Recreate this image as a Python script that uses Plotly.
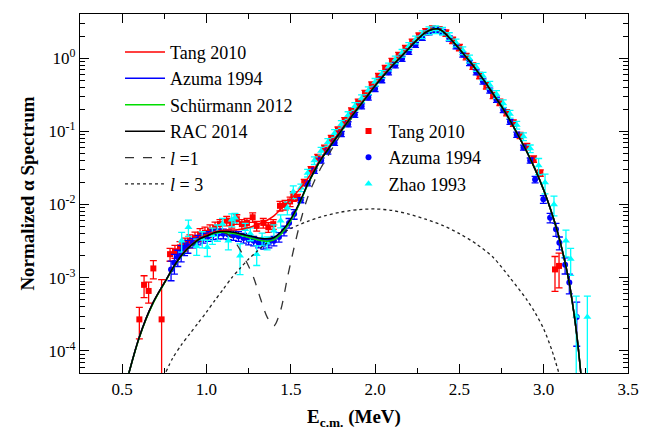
import plotly.graph_objects as go

# ---------------- data ----------------
fit_e = [0.54, 0.57, 0.60, 0.64, 0.68, 0.72, 0.76, 0.80, 0.84, 0.88, 0.92, 0.96, 1.00, 1.04, 1.08,
         1.12, 1.16, 1.20, 1.24, 1.28, 1.32, 1.36, 1.40, 1.44, 1.48, 1.52, 1.56, 1.60, 1.64, 1.68,
         1.72, 1.76, 1.80, 1.85, 1.90, 1.95, 2.00, 2.05, 2.10, 2.15, 2.20, 2.25, 2.30, 2.34, 2.37,
         2.40, 2.44, 2.48, 2.52, 2.56, 2.60, 2.65, 2.70, 2.75, 2.80, 2.85, 2.90, 2.95, 3.00, 3.04,
         3.08, 3.12, 3.15, 3.18, 3.20, 3.22]

rac_v = [5.0e-5, 8.9e-5, 1.5e-4, 2.7e-4, 4.4e-4, 6.5e-4, 9.3e-4, 1.35e-3, 1.86e-3, 2.4e-3, 2.9e-3, 3.4e-3, 3.7e-3, 4.07e-3, 4.27e-3,
         4.27e-3, 4.17e-3, 3.98e-3, 3.8e-3, 3.63e-3, 3.47e-3, 3.4e-3, 3.55e-3, 4.17e-3, 5.4e-3, 7.6e-3, 0.0117, 0.019, 0.0288, 0.0417,
         0.056, 0.076, 0.102, 0.148, 0.209, 0.295, 0.417, 0.575, 0.776, 1.02, 1.35, 1.78, 2.24, 2.48, 2.51,
         2.34, 1.90, 1.51, 1.17, 0.91, 0.69, 0.48, 0.324, 0.219, 0.141, 0.087, 0.0525, 0.030, 0.0158, 8.7e-3,
         4.4e-3, 1.9e-3, 8.9e-4, 3.2e-4, 1.4e-4, 5.0e-5]

tang_fit_v = [5.0e-5, 8.9e-5, 1.5e-4, 2.7e-4, 4.4e-4, 6.5e-4, 9.3e-4, 1.35e-3, 1.86e-3, 2.45e-3, 2.95e-3, 3.5e-3, 3.85e-3, 4.2e-3, 4.4e-3,
              4.5e-3, 4.5e-3, 4.55e-3, 4.8e-3, 5.1e-3, 5.5e-3, 6.1e-3, 7.0e-3, 8.6e-3, 0.0105, 0.0133, 0.017, 0.0225, 0.031, 0.043,
              0.059, 0.080, 0.107, 0.155, 0.218, 0.305, 0.43, 0.59, 0.79, 1.04, 1.37, 1.80, 2.26, 2.49, 2.51,
              2.34, 1.90, 1.51, 1.17, 0.91, 0.69, 0.48, 0.324, 0.219, 0.141, 0.087, 0.0525, 0.030, 0.0158, 8.7e-3,
              4.4e-3, 1.9e-3, 8.9e-4, 3.2e-4, 1.4e-4, 5.0e-5]

azuma_fit_v = [5.0e-5, 8.9e-5, 1.5e-4, 2.7e-4, 4.4e-4, 6.5e-4, 9.3e-4, 1.35e-3, 1.86e-3, 2.4e-3, 2.9e-3, 3.4e-3, 3.7e-3, 4.05e-3, 4.22e-3,
               4.2e-3, 4.1e-3, 3.9e-3, 3.7e-3, 3.52e-3, 3.35e-3, 3.28e-3, 3.42e-3, 4.02e-3, 5.25e-3, 7.45e-3, 0.0115, 0.0188, 0.0286, 0.0415,
               0.056, 0.076, 0.102, 0.148, 0.209, 0.295, 0.417, 0.575, 0.776, 1.02, 1.35, 1.78, 2.24, 2.48, 2.51,
               2.34, 1.90, 1.51, 1.17, 0.91, 0.69, 0.48, 0.324, 0.219, 0.141, 0.087, 0.0525, 0.030, 0.0158, 8.7e-3,
               4.4e-3, 1.9e-3, 8.9e-4, 3.2e-4, 1.4e-4, 5.0e-5]

schur_fit_v = [5.0e-5, 8.8e-5, 1.48e-4, 2.65e-4, 4.3e-4, 6.4e-4, 9.2e-4, 1.33e-3, 1.84e-3, 2.38e-3, 2.88e-3, 3.38e-3, 3.68e-3, 4.02e-3, 4.18e-3,
               4.15e-3, 4.02e-3, 3.82e-3, 3.6e-3, 3.4e-3, 3.22e-3, 3.15e-3, 3.3e-3, 3.9e-3, 5.1e-3, 7.3e-3, 0.0113, 0.0185, 0.0283, 0.0412,
               0.0555, 0.0755, 0.101, 0.147, 0.208, 0.294, 0.416, 0.574, 0.775, 1.02, 1.35, 1.78, 2.24, 2.48, 2.51,
               2.34, 1.90, 1.51, 1.17, 0.91, 0.69, 0.48, 0.324, 0.219, 0.141, 0.087, 0.0525, 0.030, 0.0158, 8.7e-3,
               4.4e-3, 1.9e-3, 8.9e-4, 3.2e-4, 1.4e-4, 5.0e-5]

l1_v = [5.0e-5, 8.9e-5, 1.5e-4, 2.7e-4, 4.4e-4, 6.5e-4, 9.3e-4, 1.35e-3, 1.86e-3, 2.4e-3, 2.9e-3, 3.4e-3, 3.7e-3, 4.0e-3, 4.2e-3,
        4.0e-3, 3.3e-3, 2.4e-3, 1.6e-3, 1.0e-3, 5.2e-4, 2.9e-4, 2.2e-4, 3.6e-4, 1.0e-3, 2.6e-3, 6.2e-3, 0.0125, 0.021, 0.032,
        0.046, 0.066, 0.093, 0.139, 0.205, 0.293, 0.416, 0.575, 0.776, 1.02, 1.35, 1.78, 2.24, 2.48, 2.51,
        2.34, 1.90, 1.51, 1.17, 0.91, 0.69, 0.48, 0.324, 0.219, 0.141, 0.087, 0.0525, 0.030, 0.0158, 8.7e-3,
        4.4e-3, 1.9e-3, 8.9e-4, 3.2e-4, 1.4e-4, 5.0e-5]

l3_e = [0.76, 0.80, 0.85, 0.90, 0.95, 1.00, 1.05, 1.10, 1.15, 1.20, 1.25, 1.30, 1.35, 1.40, 1.50, 1.60, 1.70,
        1.80, 1.90, 2.00, 2.10, 2.20, 2.30, 2.40, 2.50, 2.60, 2.70, 2.80, 2.90, 2.95, 3.00, 3.05, 3.09]
l3_v = [5.2e-5, 8.0e-5, 1.2e-4, 1.7e-4, 2.4e-4, 3.4e-4, 4.9e-4, 7.0e-4, 1.0e-3, 1.35e-3, 1.8e-3, 2.3e-3, 2.9e-3, 3.5e-3, 4.7e-3, 5.9e-3, 7.0e-3,
        7.9e-3, 8.5e-3, 8.7e-3, 8.3e-3, 7.4e-3, 6.3e-3, 5.2e-3, 4.0e-3, 2.9e-3, 1.9e-3, 1.0e-3, 5.0e-4, 3.3e-4, 2.0e-4, 1.0e-4, 5.0e-5]

tang_e = [0.602, 0.630, 0.657, 0.685, 0.734,
          0.784, 0.813, 0.843, 0.873, 0.902, 0.932, 0.962, 0.991, 1.021, 1.051,
          1.080, 1.120, 1.150, 1.180, 1.210, 1.240, 1.274, 1.298, 1.337, 1.367, 1.396, 1.436, 1.466, 1.496, 1.515,
          1.54, 1.58, 1.62, 1.66, 1.70, 1.74, 1.78, 1.82, 1.86, 1.90, 1.94, 1.98, 2.02, 2.06, 2.10, 2.14, 2.18, 2.22, 2.26, 2.30, 2.34,
          2.38, 2.42, 2.46, 2.50, 2.54, 2.58, 2.62, 2.66, 2.70, 2.74, 2.78, 2.82, 2.86, 2.90, 2.94, 2.98,
          3.067, 3.091]
tang_v = [2.7e-4, 8.0e-4, 6.6e-4, 1.34e-3, 2.7e-4,
          2.1e-3, 2.3e-3, 2.6e-3, 2.9e-3, 3.2e-3, 3.5e-3, 3.9e-3, 4.1e-3, 4.4e-3, 4.8e-3,
          5.4e-3, 6.0e-3, 5.6e-3, 6.3e-3, 5.4e-3, 5.6e-3, 6.7e-3, 5.1e-3, 5.6e-3, 4.9e-3, 5.4e-3, 9.6e-3, 9.9e-3, 1.1e-2, 1.3e-2,
          0.0125, 0.020, 0.030, 0.044, 0.059, 0.080, 0.104, 0.14, 0.19, 0.25, 0.33, 0.43, 0.56, 0.72, 0.90, 1.09, 1.35, 1.65, 2.0, 2.3, 2.5,
          2.45, 2.2, 1.75, 1.4, 1.05, 0.78, 0.58, 0.42, 0.31, 0.25, 0.18, 0.13, 0.088, 0.062, 0.042, 0.027,
          1.3e-3, 1.45e-3]
tang_rel = [0.46, 0.33, 0.32, 0.28, 2.5] + [0.2] * 10 + [0.15] * 15 + [0.1] * 37 + [0.5, 0.5]

azuma_e = [0.79, 0.81, 0.83, 0.85, 0.87, 0.89, 0.92, 0.95, 0.98, 1.01, 1.04, 1.07, 1.10, 1.13, 1.16, 1.19, 1.22, 1.25,
           1.28, 1.31, 1.34, 1.37, 1.40, 1.43, 1.46, 1.49, 1.52,
           1.56, 1.60, 1.64, 1.68, 1.72, 1.76, 1.80, 1.84, 1.88, 1.92, 1.96, 2.00, 2.04, 2.08, 2.12, 2.16, 2.20, 2.24, 2.28, 2.32,
           2.36, 2.40, 2.44, 2.48, 2.52, 2.56, 2.60, 2.64, 2.68, 2.72, 2.76, 2.80, 2.84, 2.88, 2.92,
           2.949, 2.998, 3.038, 3.073, 3.093, 3.127, 3.152, 3.196]
azuma_v = [1.3e-3, 1.6e-3, 1.9e-3, 2.2e-3, 2.5e-3, 2.7e-3, 3.0e-3, 3.3e-3, 3.5e-3, 3.7e-3, 3.9e-3, 4.0e-3, 4.0e-3, 3.9e-3, 3.8e-3, 3.7e-3, 3.5e-3, 3.3e-3,
           3.2e-3, 3.0e-3, 2.9e-3, 3.0e-3, 3.2e-3, 3.6e-3, 4.4e-3, 5.6e-3, 7.4e-3,
           0.0115, 0.0195, 0.029, 0.040, 0.053, 0.070, 0.092, 0.125, 0.168, 0.22, 0.29, 0.38, 0.50, 0.64, 0.80, 0.98, 1.22, 1.52, 1.90, 2.25,
           2.42, 2.28, 1.86, 1.45, 1.12, 0.86, 0.64, 0.48, 0.36, 0.27, 0.195, 0.135, 0.090, 0.060, 0.040,
           0.022, 0.0118, 0.0066, 0.0046, 0.0030, 0.0015, 8.6e-4, 2.9e-4]
azuma_rel = [0.3, 0.3, 0.25, 0.25, 0.2, 0.2] + [0.15] * 21 + [0.08] * 35 + [0.1, 0.12, 0.15, 0.2, 0.2, 0.25, 0.3, 0.6]

zhao_e = [0.853, 0.893, 0.942, 0.975, 1.005, 1.035, 1.065, 1.095, 1.130, 1.150, 1.169, 1.199, 1.23, 1.26, 1.298,
          1.33, 1.36, 1.40, 1.44, 1.48, 1.515,
          1.56, 1.60, 1.64, 1.68, 1.72, 1.76, 1.80, 1.84, 1.88, 1.92, 1.96, 2.00, 2.04, 2.08, 2.12, 2.16, 2.20, 2.24, 2.28, 2.32, 2.36,
          2.40, 2.44, 2.48, 2.52, 2.56, 2.60, 2.64, 2.68, 2.72, 2.76, 2.80, 2.84, 2.88, 2.92,
          2.97, 3.008, 3.061, 3.132, 3.16, 3.193, 3.259]
zhao_v = [3.2e-3, 4.9e-3, 2.7e-3, 3.4e-3, 2.6e-3, 3.8e-3, 4.2e-3, 5.4e-3, 3.2e-3, 6.2e-3, 6.6e-3, 2.0e-3, 4.6e-3, 4.0e-3, 2.1e-3,
          3.4e-3, 3.0e-3, 4.4e-3, 6.0e-3, 9.0e-3, 0.015,
          0.017, 0.027, 0.040, 0.054, 0.071, 0.094, 0.125, 0.165, 0.22, 0.28, 0.36, 0.47, 0.60, 0.76, 0.95, 1.17, 1.45, 1.78, 2.10, 2.38, 2.45,
          2.35, 1.98, 1.62, 1.27, 0.98, 0.75, 0.57, 0.43, 0.32, 0.24, 0.172, 0.122, 0.085, 0.058,
          0.034, 0.020, 0.010, 3.2e-3, 1.8e-3, 3.0e-4, 2.9e-4]
zhao_rel = [0.3, 0.25, 0.25, 0.25, 0.25, 0.25, 0.25, 0.2, 0.25, 0.2, 0.15, 0.45, 0.2, 0.2, 0.3,
            0.2, 0.2, 0.2, 0.2, 0.2, 0.2] + [0.12] * 35 + [0.25, 0.3, 0.3, 0.4, 0.4, 0.87, 0.93]

y_tick_vals = [1e-4, 1e-3, 1e-2, 1e-1, 1]
y_tick_text = ["10<sup>-4</sup>", "10<sup>-3</sup>", "10<sup>-2</sup>", "10<sup>-1</sup>", "10<sup>0</sup>"]
x_tick_vals = [0.5, 1.0, 1.5, 2.0, 2.5, 3.0, 3.5]
x_tick_text = ["0.5", "1.0", "1.5", "2.0", "2.5", "3.0", "3.5"]

# ---------------- figure ----------------
FONT = "Liberation Serif, Times New Roman, serif"
fig = go.Figure()


def err(vals, rel):
    up = [v * r for v, r in zip(vals, rel)]
    dn = [v * min(r, 0.99) for v, r in zip(vals, rel)]
    return up, dn


for name, xs, ys, rel, col, sym, sz in [
    ("Tang 2010", tang_e, tang_v, tang_rel, "#ff0000", "square", 6),
    ("Azuma 1994", azuma_e, azuma_v, azuma_rel, "#0000ff", "circle", 6),
    ("Zhao 1993", zhao_e, zhao_v, zhao_rel, "#00ffff", "triangle-up", 7),
]:
    up, dn = err(ys, rel)
    fig.add_trace(go.Scatter(
        x=xs, y=ys, mode="markers", name=name, legend="legend2",
        marker=dict(symbol=sym, size=sz, color=col, line=dict(width=0)),
        error_y=dict(type="data", array=up, arrayminus=dn, color=col, thickness=1.3, width=3.5),
    ))

fig.add_trace(go.Scatter(x=l3_e, y=l3_v, mode="lines", name="<i>l</i> = 3", legendrank=6,
                         line=dict(color="#222222", width=1.3, dash="dot", shape="spline", smoothing=0.8)))
fig.add_trace(go.Scatter(x=fit_e, y=l1_v, mode="lines", name="<i>l</i> =1", legendrank=5,
                         line=dict(color="#333333", width=1.3, dash="dash", shape="spline", smoothing=0.8)))

for name, ys, col, rank in [
    ("Tang 2010", tang_fit_v, "#ff0000", 1),
    ("Azuma 1994", azuma_fit_v, "#0000ff", 2),
    ("Schürmann 2012", schur_fit_v, "#00dd00", 3),
    ("RAC 2014", rac_v, "#000000", 4),
]:
    fig.add_trace(go.Scatter(x=fit_e, y=ys, mode="lines", name=name, legendrank=rank,
                             line=dict(color=col, width=1.5, shape="spline", smoothing=0.8)))

fig.update_layout(
    width=669, height=438,
    margin=dict(l=80, r=41, t=14, b=65),
    paper_bgcolor="white", plot_bgcolor="white",
    font=dict(family=FONT, size=17, color="black"),
    showlegend=True,
    legend=dict(x=0.073, y=0.945, xanchor="left", yanchor="top", bgcolor="rgba(0,0,0,0)",
                font=dict(family=FONT, size=18), tracegroupgap=0, itemwidth=40, traceorder="normal"),
    legend2=dict(x=0.49, y=0.725, xanchor="left", yanchor="top", bgcolor="rgba(0,0,0,0)",
                 font=dict(family=FONT, size=18), itemwidth=30),
)

fig.update_xaxes(
    range=[0.25, 3.5], showline=True, linecolor="black", linewidth=1.2, mirror="allticks",
    tickmode="array", tickvals=x_tick_vals, ticktext=x_tick_text,
    ticks="inside", ticklen=9, tickwidth=1.2, tickcolor="black",
    minor=dict(dtick=0.25, tick0=0.25, ticks="inside", ticklen=5, tickwidth=1, tickcolor="black", showgrid=False),
    showgrid=False, zeroline=False,
    title=dict(text="<b>E<sub>c.m.</sub> (MeV)</b>", font=dict(family=FONT, size=19), standoff=12),
    tickfont=dict(family=FONT, size=17),
)

minor_vals = [m * 10 ** d for d in range(-5, 1) for m in range(2, 10)]
fig.update_yaxes(
    type="log", range=[-4.301, 0.602], showline=True, linecolor="black", linewidth=1.2, mirror="allticks",
    tickmode="array", tickvals=y_tick_vals, ticktext=y_tick_text,
    ticks="inside", ticklen=9, tickwidth=1.2, tickcolor="black",
    minor=dict(tickmode="array", tickvals=minor_vals, ticks="inside", ticklen=5, tickwidth=1, tickcolor="black", showgrid=False),
    showgrid=False, zeroline=False,
    title=dict(text="<b>Normalized α Spectrum</b>", font=dict(family=FONT, size=19), standoff=8),
    tickfont=dict(family=FONT, size=17),
)

fig.write_html("out.html")
